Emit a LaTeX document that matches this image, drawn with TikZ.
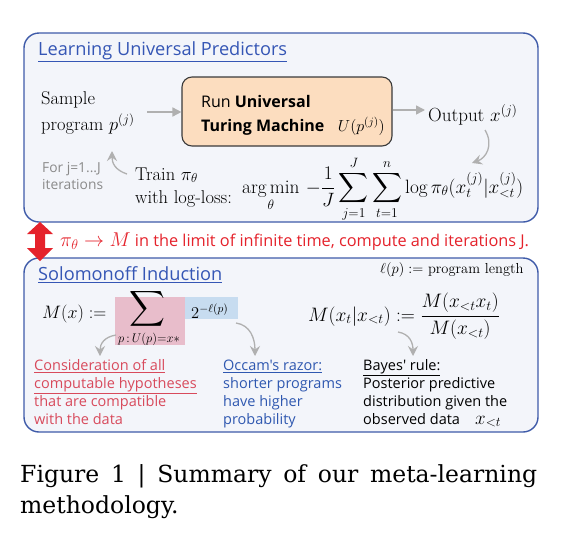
\RequirePackage{fix-cm}
\documentclass[tikz,border=0pt]{standalone}
\usepackage{amsmath}
\usepackage{fontspec}
\usetikzlibrary{arrows.meta}
\newfontfamily\gsans{Open Sans}
\newfontfamily\capfont{DejaVu Serif}
\definecolor{panelfill}{HTML}{F3F5FA}
\definecolor{panelblue}{HTML}{3F5BA9}
\definecolor{titleblue}{HTML}{3556B5}
\definecolor{utmfill}{HTML}{FCDDBF}
\definecolor{utmdraw}{HTML}{3A3A3A}
\definecolor{arrgray}{HTML}{B0B0B0}
\definecolor{txtgray}{HTML}{8A8A8A}
\definecolor{limred}{HTML}{E5222B}
\definecolor{hypred}{HTML}{D84A5C}
\definecolor{occblue}{HTML}{2F58B0}
\definecolor{pinkbg}{HTML}{E8BDCB}
\definecolor{bluebg}{HTML}{C7DCF0}
\tikzset{
  panel/.style={draw=panelblue, line width=1.4pt, fill=panelfill, rounded corners=15pt, inner sep=0pt},
  utmbox/.style={draw=utmdraw, line width=1.1pt, fill=utmfill, rounded corners=10pt, inner sep=0pt},
  garrow/.style={draw=arrgray, line width=1.6pt, -{Triangle[length=9pt,width=9pt]}},
  carrow/.style={draw=arrgray, line width=1.3pt, -{Stealth[length=10pt,width=10pt,inset=3.5pt]}},
  txt/.style={anchor=base west, inner sep=0pt},
  serifm/.style={txt, font=\fontsize{18.5}{22}\selectfont},
  sanst/.style={txt, font=\gsans\fontsize{14.5}{18}\selectfont},
  ttl/.style={txt, font=\gsans\fontsize{18.2}{22}\selectfont, text=titleblue},
}
\begin{document}
\begin{tikzpicture}[x=1pt,y=-1pt]
\useasboundingbox (0,0) rectangle (567,536);
\fill[white] (0,0) rectangle (567,536);

% panels
\node[panel, minimum width=514pt, minimum height=189pt] (top) at (281,127.5) {};
\node[panel, minimum width=514pt, minimum height=174pt] (bot) at (281,345) {};

% ---------- top panel ----------
\node[ttl] (t1) at (38,55) {\underline{Learning Universal Predictors}};

\node[serifm] (sample) at (41,104) {Sample};
\node[serifm] (prog) at (41,130) {program $p^{(j)}$};

\node[utmbox, minimum width=210pt, minimum height=69pt] (utm) at (287,111.5) {};
\node[txt, font=\gsans\fontsize{16}{20}\selectfont] (run) at (201,107) {Run \textbf{Universal}};
\node[txt, font=\gsans\fontsize{16}{20}\selectfont] (tm) at (201,131) {\textbf{Turing Machine}};
\node[anchor=base east, inner sep=0pt, font=\fontsize{16}{20}\selectfont] (up) at (385,131) {$U(p^{(j)})$};

\node[txt, font=\fontsize{19}{22}\selectfont] (out) at (428,121) {Output $x^{(j)}$};

\coordinate (a1s) at (147,112);
\draw[garrow] (a1s) -- (utm.west |- a1s);
\coordinate (a2e) at (425,110);
\draw[garrow] (utm.east |- a2e) -- (a2e);

\coordinate (c1s) at (485,130);
\coordinate (c1e) at (472,163);
\draw[carrow] (c1s) .. controls (494,145) and (486,158) .. (c1e);

\node[txt, font=\gsans\fontsize{13.8}{16}\selectfont, text=txtgray] (forj) at (42,172) {For j=1...J};
\node[txt, font=\gsans\fontsize{13.8}{16}\selectfont, text=txtgray] (iter) at (42,189) {iterations};

\coordinate (c2s) at (127,174);
\coordinate (c2e) at (112,151);
\draw[carrow] (c2s) .. controls (115,170) and (112,163) .. (c2e);

\node[serifm] (train) at (135,180) {Train $\pi_\theta$};
\node[serifm] (with) at (135,203) {with log-loss:};

\node[txt, font=\fontsize{19.3}{22}\selectfont] (loss) at (242,193) {$\displaystyle \operatorname*{arg\,min}_\theta\, -\frac{1}{J}\sum_{j=1}^{J}\sum_{t=1}^{n}\log\pi_\theta(x_t^{(j)}|x_{<t}^{(j)})$};

% ---------- red double arrow ----------
\fill[limred] (40,222) -- (53,234) -- (45,234) -- (45,248) -- (53,248) -- (40,261)
  -- (27,248) -- (35,248) -- (35,234) -- (27,234) -- cycle;
\node[txt, font=\gsans\fontsize{16.3}{20}\selectfont, text=limred] (lim) at (60,246)
  {{\fontsize{20}{22}\selectfont$\pi_\theta \to M$} in the limit of infinite time, compute and iterations J.};

% ---------- bottom panel ----------
\node[ttl] (t2) at (38,280) {\underline{Solomonoff Induction}};
\node[txt, font=\fontsize{14.5}{16}\selectfont] (lp) at (380,273) {$\ell(p) :=$ program length};

\fill[pinkbg] (115,297) rectangle (185,345);
\fill[bluebg] (185,297) rectangle (238,319);

\node[txt, font=\fontsize{18}{22}\selectfont] (mx) at (42,318) {$M(x) :=$};
\node[inner sep=0pt, text height=12pt, text depth=12pt, font=\fontsize{27}{30}\selectfont] (sig) at (147,316) {$\displaystyle\sum$};
\node[anchor=base, inner sep=0pt, font=\fontsize{12.5}{14}\selectfont] (sigsub) at (149,342) {$p\,{:}\,U(p){=}x*$};
\node[txt, font=\fontsize{16.5}{20}\selectfont] (two) at (191,318) {$2^{-\ell(p)}$};

\node[txt, font=\fontsize{19.5}{22}\selectfont] (bayes) at (308,321) {$M(x_t|x_{<t}) := \dfrac{M(x_{<t}x_t)}{M(x_{<t})}$};

\coordinate (d1s) at (116,335);
\coordinate (d1e) at (100,356);
\draw[carrow] (d1s) .. controls (104,337) and (100,344) .. (d1e);
\coordinate (d2s) at (236,323);
\coordinate (d2e) at (255,356);
\draw[carrow] (d2s) .. controls (250,325) and (255,338) .. (d2e);
\coordinate (d3s) at (398,332);
\coordinate (d3e) at (413,356);
\draw[carrow] (d3s) .. controls (410,334) and (413,343) .. (d3e);

\node[sanst, text=hypred] (h1) at (34,370) {\underline{Consideration of all}};
\node[sanst, text=hypred] (h2) at (34,388) {\underline{computable hypotheses}};
\node[sanst, text=hypred] (h3) at (34,406) {that are compatible};
\node[sanst, text=hypred] (h4) at (34,424) {with the data};

\node[sanst, text=occblue] (o1) at (223,370) {\underline{Occam's razor:}};
\node[sanst, text=occblue] (o2) at (223,388) {shorter programs};
\node[sanst, text=occblue] (o3) at (223,406) {have higher};
\node[sanst, text=occblue] (o4) at (223,424) {probability};

\node[sanst] (b1) at (363,370) {\underline{Bayes' rule:}};
\node[sanst] (b2) at (363,388) {Posterior predictive};
\node[sanst] (b3) at (363,406) {distribution given the};
\node[sanst] (b4) at (363,424) {observed data};
\node[txt, font=\fontsize{19}{22}\selectfont] (xlt) at (475,424) {$x_{<t}$};

% ---------- caption ----------
\node[txt, font=\capfont\fontsize{23.5}{26}\selectfont] (cap1) at (20,482) {\makebox[517pt][s]{Figure 1 | Summary of our meta-learning}};
\node[txt, font=\capfont\fontsize{23.5}{26}\selectfont] (cap2) at (20,513) {methodology.};
\end{tikzpicture}
\end{document}
